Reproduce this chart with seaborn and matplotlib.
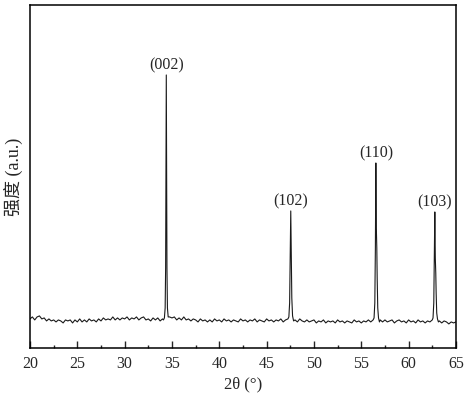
import numpy as np
import pandas as pd
import seaborn as sns
import matplotlib.pyplot as plt
from matplotlib.ticker import MultipleLocator

# baseline segments and peaks (intensity in arbitrary units)
seg_a_x = [20.0, 20.25, 20.5, 20.75, 21.0, 21.25, 21.5, 21.75,
           22.0, 22.25, 22.5, 22.75, 23.0, 23.25, 23.5, 23.75,
           24.0, 24.25, 24.5, 24.75, 25.0, 25.25, 25.5, 25.75,
           26.0, 26.25, 26.5, 26.75, 27.0, 27.25, 27.5, 27.75,
           28.0, 28.25, 28.5, 28.75, 29.0, 29.25, 29.5, 29.75,
           30.0, 30.25, 30.5, 30.75, 31.0, 31.25, 31.5, 31.75,
           32.0, 32.25, 32.5, 32.75, 33.0, 33.25, 33.5, 33.75,
           34.0]
seg_a_y = [29, 31, 28, 31, 32, 29, 30, 27,
           29, 27, 28, 26, 28, 27, 25, 28,
           27, 28, 25, 28, 26, 29, 26, 28,
           26, 29, 27, 28, 26, 29, 27, 30,
           28, 29, 28, 31, 28, 30, 28, 30,
           29, 31, 28, 30, 29, 31, 28, 30,
           31, 28, 29, 27, 30, 28, 30, 27,
           29]

peak_002_x = [34.10, 34.20, 34.28, 34.33, 34.37, 34.40, 34.43, 34.47, 34.52, 34.60]
peak_002_y = [28, 30, 40, 80, 180, 273, 180, 80, 40, 31]

seg_b_x = [34.75,
           35.0, 35.25, 35.5, 35.75, 36.0, 36.25, 36.5, 36.75,
           37.0, 37.25, 37.5, 37.75, 38.0, 38.25, 38.5, 38.75,
           39.0, 39.25, 39.5, 39.75, 40.0, 40.25, 40.5, 40.75,
           41.0, 41.25, 41.5, 41.75, 42.0, 42.25, 42.5, 42.75,
           43.0, 43.25, 43.5, 43.75, 44.0, 44.25, 44.5, 44.75,
           45.0, 45.25, 45.5, 45.75, 46.0, 46.25, 46.5, 46.75,
           47.0]
seg_b_y = [31,
           30, 31, 28, 30, 28, 31, 28, 29,
           27, 29, 28, 26, 29, 27, 28, 26,
           28, 26, 29, 27, 28, 26, 29, 27,
           28, 26, 28, 27, 26, 29, 27, 28,
           26, 28, 27, 29, 26, 28, 27, 26,
           29, 27, 28, 26, 28, 27, 29, 26,
           28]

peak_102_x = [47.25, 47.35, 47.43, 47.49, 47.55, 47.60, 47.66, 47.74, 47.85]
peak_102_y = [29, 31, 45, 90, 137, 95, 50, 32, 27]

seg_c_x = [48.0, 48.25, 48.5, 48.75, 49.0, 49.25, 49.5, 49.75,
           50.0, 50.25, 50.5, 50.75, 51.0, 51.25, 51.5, 51.75,
           52.0, 52.25, 52.5, 52.75, 53.0, 53.25, 53.5, 53.75,
           54.0, 54.25, 54.5, 54.75, 55.0, 55.25, 55.5, 55.75,
           56.0]
seg_c_y = [28, 26, 29, 27, 26, 28, 26, 27,
           28, 25, 27, 26, 28, 25, 27, 26,
           27, 25, 28, 26, 27, 25, 27, 26,
           25, 28, 26, 27, 25, 27, 26, 28,
           26]

peak_110_x = [56.25, 56.35, 56.43, 56.49, 56.54, 56.59, 56.64, 56.68, 56.74, 56.82, 56.92]
peak_110_y = [28, 30, 45, 100, 185, 120, 100, 70, 40, 30, 26]

seg_d_x = [57.0, 57.25, 57.5, 57.75, 58.0, 58.25, 58.5, 58.75,
           59.0, 59.25, 59.5, 59.75, 60.0, 60.25, 60.5, 60.75,
           61.0, 61.25, 61.5, 61.75, 62.0, 62.25]
seg_d_y = [28, 26, 28, 26, 27, 28, 25, 27,
           28, 26, 27, 25, 28, 26, 27, 25,
           28, 26, 27, 25, 27, 26]

peak_103_x = [62.50, 62.58, 62.66, 62.72, 62.77, 62.82, 62.87, 62.91, 62.97, 63.05, 63.15]
peak_103_y = [28, 30, 45, 90, 136, 90, 75, 55, 35, 29, 26]

seg_e_x = [63.25, 63.5, 63.75, 64.0, 64.25, 64.5, 64.75, 65.0]
seg_e_y = [27, 25, 27, 26, 24, 26, 25, 26]

peak_labels = ['(002)', '(102)', '(110)', '(103)']
peak_pos = [34.40, 47.55, 56.54, 62.77]
peak_top = [273, 137, 185, 136]

x_ticks = [20, 25, 30, 35, 40, 45, 50, 55, 60, 65]


def build_frame():
    xs = seg_a_x + peak_002_x + seg_b_x + peak_102_x + seg_c_x + peak_110_x + seg_d_x + peak_103_x + seg_e_x
    ys = seg_a_y + peak_002_y + seg_b_y + peak_102_y + seg_c_y + peak_110_y + seg_d_y + peak_103_y + seg_e_y
    assert len(xs) == len(ys)
    return pd.DataFrame({'two_theta': xs, 'intensity': ys})


def main():
    df = build_frame()
    sns.set_style('ticks')
    plt.rcParams['font.family'] = ['Liberation Serif', 'Noto Sans CJK SC']

    fig = plt.figure(figsize=(4.65, 3.99), dpi=100)
    ax = fig.add_axes([0.0645, 0.128, 0.916, 0.8595])
    sns.lineplot(data=df, x='two_theta', y='intensity', ax=ax,
                 color='#1a1a1a', linewidth=0.8, estimator=None)

    for lab, px, top in zip(peak_labels, peak_pos, peak_top):
        ax.annotate(lab, (px, top), xytext=(0, 1), textcoords='offset points',
                    ha='center', va='bottom', fontsize=11.5)

    ax.set_xlim(20, 65)
    ax.set_ylim(0, 343)
    ax.set_xticks(x_ticks)
    ax.xaxis.set_minor_locator(MultipleLocator(2.5))
    ax.set_yticks([])
    ax.tick_params(axis='x', which='major', direction='in', length=5, width=1, pad=6, labelsize=11.5)
    ax.tick_params(axis='x', which='minor', direction='in', length=2.5, width=1)
    for s in ax.spines.values():
        s.set_visible(True)
        s.set_linewidth(1.1)
        s.set_color('black')

    ax.set_xlabel('2θ (°)', fontsize=12, labelpad=3)
    ax.set_ylabel('强度 (a.u.)', fontsize=13, labelpad=5)

    fig.savefig('out.png', dpi=100)


if __name__ == '__main__':
    main()
